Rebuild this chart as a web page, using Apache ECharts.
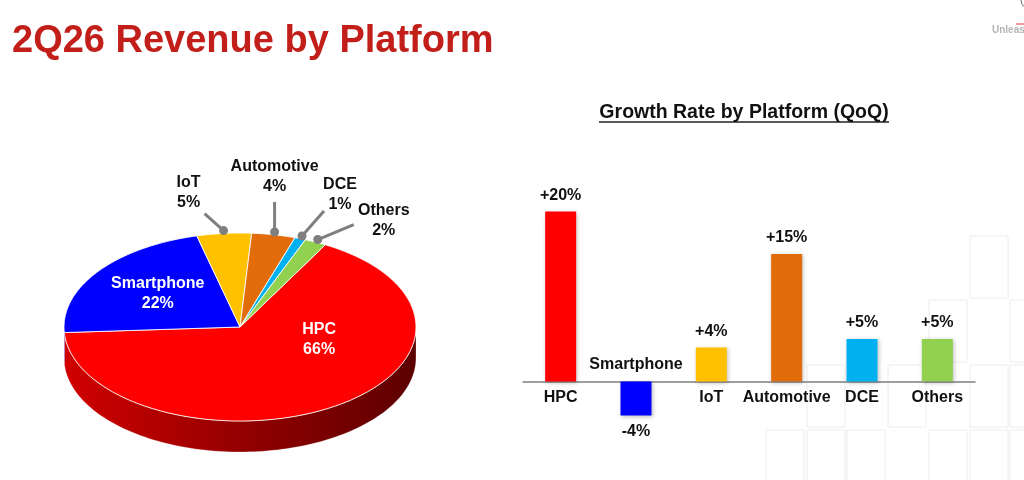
<!DOCTYPE html>
<html lang="en">
<head>
<meta charset="UTF-8">
<title>2Q26 Revenue by Platform</title>
<script src="https://cdn.jsdelivr.net/npm/echarts@6/dist/echarts.min.js"></script>
<style>
  html, body { margin: 0; padding: 0; background: #fff; }
  #main { width: 1024px; height: 480px; }
</style>
</head>
<body>
<div id="main"></div>
<script type="text/javascript">
// data
var platforms = ['HPC', 'Smartphone', 'IoT', 'Automotive', 'DCE', 'Others'];
var revenueShare = [66, 22, 5, 4, 1, 2];
var qoqGrowth = [20, -4, 4, 15, 5, 5];
var platformColors = ['#ff0000', '#0000ff', '#ffc000', '#e36c0a', '#00b0f0', '#92d050'];

var FONT = '"Liberation Sans", Arial, sans-serif';

// 3D pie geometry (ellipse top + front wall)
var pie = { cx: 240, cy: 327, rx: 176, ry: 94, depth: 31, startAngle: 61 };
var pieTotal = revenueShare.reduce(function (s, v) { return s + v; }, 0);

// where the labels go: inside ones by angle/radius, outside ones by leader line
var pieLabelLayout = {
    'HPC':        { inside: true, angle: -17, k: 0.47 },
    'Smartphone': { inside: true, angle: 143, k: 0.585 },
    'IoT':        { line: [-19, -17], text: [-35, -38] },
    'Automotive': { line: [0, -30], text: [0, -55] },
    'DCE':        { line: [22, -25], text: [38, -41] },
    'Others':     { line: [36, -15], text: [66, -19] }
};

function ellipsePoint(deg, k, dy) {
    var r = deg * Math.PI / 180;
    return [pie.cx + pie.rx * k * Math.cos(r), pie.cy - pie.ry * k * Math.sin(r) + (dy || 0)];
}
function arcPoints(from, to, dy) {
    var pts = [];
    var n = Math.max(2, Math.ceil(Math.abs(from - to) / 1.5));
    for (var i = 0; i <= n; i++) {
        pts.push(ellipsePoint(from + (to - from) * i / n, 1, dy));
    }
    return pts;
}
function shade(hex, f) {
    var c = echarts.color.parse(hex);
    return 'rgb(' + Math.round(c[0] * f) + ',' + Math.round(c[1] * f) + ',' + Math.round(c[2] * f) + ')';
}

function renderSlice(params, api) {
    var idx = params.dataIndex;
    var value = api.value(0);
    var before = 0;
    for (var i = 0; i < idx; i++) before += revenueShare[i];
    var a0 = pie.startAngle - 360 * before / pieTotal;
    var a1 = a0 - 360 * value / pieTotal;
    var color = platformColors[idx];
    var children = [];

    // front wall: the part of the slice lying on the lower half of the ellipse
    for (var k = -1; k <= 1; k++) {
        var lo = Math.max(a1, -180 + 360 * k);
        var hi = Math.min(a0, 360 * k);
        if (hi > lo) {
            var wall = arcPoints(hi, lo, 0).concat(arcPoints(lo, hi, pie.depth));
            children.push({
                type: 'polygon',
                shape: { points: wall },
                style: {
                    fill: {
                        type: 'linear', global: true,
                        x: pie.cx - pie.rx, y: 0, x2: pie.cx + pie.rx, y2: 0,
                        colorStops: [
                            { offset: 0, color: shade(color, 0.82) },
                            { offset: 0.5, color: shade(color, 0.58) },
                            { offset: 1, color: shade(color, 0.36) }
                        ]
                    },
                    stroke: 'rgba(255,255,255,0.35)',
                    lineWidth: 0.8
                }
            });
        }
    }

    // top face
    var top = [[pie.cx, pie.cy]].concat(arcPoints(a0, a1, 0));
    children.push({
        type: 'polygon',
        shape: { points: top },
        style: { fill: color, stroke: 'rgba(255,255,255,0.85)', lineWidth: 1 }
    });

    // label
    var name = platforms[idx];
    var lay = pieLabelLayout[name];
    var text = name + '\n' + value + '%';
    if (lay.inside) {
        var p = ellipsePoint(lay.angle, lay.k, 0);
        children.push({
            type: 'text',
            style: {
                text: text, x: p[0], y: p[1],
                fill: '#ffffff', font: 'bold 16px ' + FONT, lineHeight: 20,
                align: 'center', verticalAlign: 'middle'
            }
        });
    } else {
        var d = ellipsePoint((a0 + a1) / 2, 1.03, 0);
        children.push({
            type: 'polyline',
            shape: { points: [d, [d[0] + lay.line[0], d[1] + lay.line[1]]] },
            style: { stroke: '#7f7f7f', lineWidth: 3, fill: null }
        });
        children.push({
            type: 'circle',
            shape: { cx: d[0], cy: d[1], r: 4.5 },
            style: { fill: '#7f7f7f' }
        });
        children.push({
            type: 'text',
            style: {
                text: text, x: d[0] + lay.text[0], y: d[1] + lay.text[1],
                fill: '#111111', font: 'bold 16px ' + FONT, lineHeight: 20,
                align: 'center', verticalAlign: 'middle'
            }
        });
    }
    return { type: 'group', children: children };
}

// faint decorative cells in the lower right
var cells = [
    [970, 236], [929, 300], [1010, 300],
    [807, 365], [888, 365], [970, 365], [1010, 365],
    [766, 430], [807, 430], [847, 430], [929, 430], [970, 430], [1010, 430]
];
var decoration = cells.map(function (c) {
    return {
        type: 'rect', z: -10,
        shape: { x: c[0], y: c[1], width: 38, height: 62 },
        style: { fill: null, stroke: '#f0ecea', lineWidth: 1 }
    };
});
decoration.push({
    type: 'line',
    shape: { x1: 599, y1: 122, x2: 889, y2: 122 },
    style: { stroke: '#222', lineWidth: 1.5 }
});
decoration.push({
    type: 'text',
    style: { text: 'Unleas', x: 992, y: 30, fill: '#b5b5b5', font: 'bold 10px ' + FONT, verticalAlign: 'middle' }
});
decoration.push({
    type: 'line',
    shape: { x1: 1016, y1: 24, x2: 1024, y2: 24 },
    style: { stroke: '#e8343a', lineWidth: 1 }
});
decoration.push({
    type: 'arc',
    shape: { cx: 1030, cy: 0, r: 9, startAngle: Math.PI * 0.5, endAngle: Math.PI },
    style: { stroke: '#666', lineWidth: 1, fill: null }
});

var myChart = echarts.init(document.getElementById('main'), null, { renderer: 'canvas' });

var option = {
    backgroundColor: '#ffffff',
    animation: false,
    textStyle: { fontFamily: FONT },
    title: [
        {
            text: '2Q26 Revenue by Platform',
            left: 12, top: 23, padding: 0,
            textStyle: { color: '#c21f1a', fontSize: 38, fontWeight: 'bold', fontFamily: FONT }
        },
        {
            text: 'Growth Rate by Platform (QoQ)',
            left: 744, top: 103, padding: 0, textAlign: 'center',
            textStyle: { color: '#111', fontSize: 19.5, fontWeight: 'bold', fontFamily: FONT }
        }
    ],
    graphic: decoration,
    grid: { left: 523, right: 49, top: 169, bottom: 56 },
    xAxis: {
        type: 'category',
        data: platforms,
        axisLine: { onZero: true, lineStyle: { color: '#808080', width: 1.5 } },
        axisTick: { show: false },
        axisLabel: { show: false }
    },
    yAxis: {
        type: 'value', min: -5, max: 25, interval: 5,
        show: false,
        splitLine: { show: false }
    },
    series: [
        {
            type: 'custom',
            coordinateSystem: 'none',
            silent: true,
            renderItem: renderSlice,
            data: revenueShare
        },
        {
            type: 'bar',
            barWidth: 31,
            silent: true,
            data: qoqGrowth.map(function (v, i) {
                return {
                    value: v,
                    itemStyle: { color: platformColors[i] },
                    label: { position: v >= 0 ? 'top' : 'bottom' }
                };
            }),
            itemStyle: {
                shadowBlur: 4, shadowOffsetX: 1, shadowOffsetY: 1,
                shadowColor: 'rgba(0,0,0,0.25)'
            },
            label: {
                show: true, distance: 8,
                color: '#111', fontSize: 16, fontWeight: 'bold', fontFamily: FONT,
                formatter: function (p) { return (p.value > 0 ? '+' : '') + p.value + '%'; }
            }
        },
        {
            // category names sit opposite the bar, on the zero line
            type: 'scatter',
            silent: true,
            symbolSize: 0.1,
            itemStyle: { color: '#ffffff', opacity: 1 },
            data: qoqGrowth.map(function (v) {
                return { value: 0, label: { position: v >= 0 ? 'bottom' : 'top' } };
            }),
            label: {
                show: true, distance: 8.5, opacity: 1,
                color: '#111', fontSize: 16, fontWeight: 'bold', fontFamily: FONT,
                formatter: function (p) { return platforms[p.dataIndex]; }
            }
        }
    ]
};

myChart.setOption(option);
</script>
</body>
</html>
